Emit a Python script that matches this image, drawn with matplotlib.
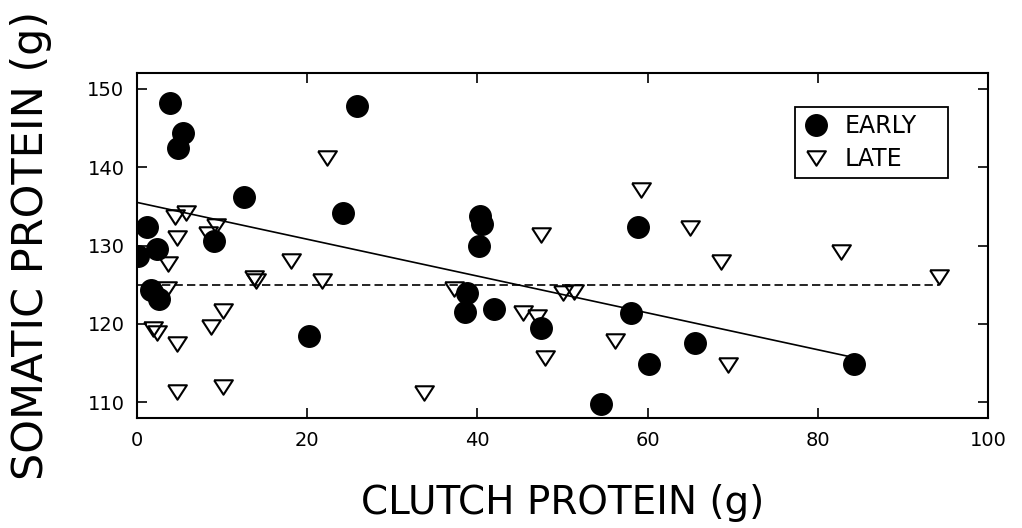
import matplotlib
matplotlib.use("Agg")
import matplotlib.pyplot as plt
from matplotlib.lines import Line2D

plt.rcParams['font.family'] = ['DejaVu Sans']

# EARLY (filled circles)
early_x = [3.9, 5.45, 4.8, 25.8, 12.6, 24.2, 1.2, 9.0, 2.3, 0.15, 1.7, 2.6, 20.2,
           40.35, 40.5, 40.2, 38.8, 38.6, 41.9, 47.5, 58.9, 58.1, 60.2, 54.5, 65.6, 84.3]
early_y = [148.2, 144.4, 142.5, 147.8, 136.2, 134.2, 132.3, 130.6, 129.6, 128.7, 124.3, 123.2, 118.5,
           133.8, 132.8, 130.0, 123.9, 121.5, 121.9, 119.5, 132.3, 121.4, 114.9, 109.8, 117.6, 114.9]

# LATE (open triangles)
late_x = [22.3, 4.5, 5.8, 9.3, 8.3, 4.7, 3.6, 18.1, 13.7, 14.0, 21.7, 3.5, 10.1, 8.7, 1.9, 2.3,
          4.7, 4.7, 10.1, 59.2, 65.0, 47.5, 37.2, 50.1, 51.3, 45.4, 47.0, 56.2, 48.0, 33.7,
          68.6, 82.7, 94.3, 69.4]
late_y = [141.1, 133.6, 134.2, 132.5, 131.5, 130.9, 127.7, 128.0, 125.9, 125.5, 125.5, 124.5, 121.6,
          119.6, 119.3, 118.8, 117.5, 111.3, 112.0, 137.1, 132.2, 131.4, 124.4, 123.9, 124.1,
          121.4, 120.9, 117.8, 115.6, 111.2, 127.9, 129.2, 126.0, 114.7]

# fitted lines
early_fit_x = [0.0, 84.3]
early_fit_y = [135.5, 115.7]
late_fit_x = [0.0, 94.3]
late_fit_y = [125.0, 125.0]

xticks = [0, 20, 40, 60, 80, 100]
yticks = [110, 120, 130, 140, 150]

fig = plt.figure(figsize=(10.22, 5.28), dpi=100)
ax = fig.add_axes([0.134, 0.2083, 0.8327, 0.6534])

tri = [(-1, 0.77), (1, 0.77), (0, -0.77), (-1, 0.77)]

ax.plot(early_fit_x, early_fit_y, color='black', lw=1.2, zorder=1)
ax.plot(late_fit_x, late_fit_y, color='black', lw=1.2, dashes=(5, 2.5), zorder=1)
ax.plot(late_x, late_y, linestyle='none', marker=tri, markersize=13.5,
        markerfacecolor='none', markeredgecolor='black', markeredgewidth=1.5, zorder=2)
ax.plot(early_x, early_y, linestyle='none', marker='o', markersize=15.5,
        markerfacecolor='black', markeredgecolor='black', zorder=3)

ax.set_xlim(0, 100)
ax.set_ylim(108, 152)
ax.set_xticks(xticks)
ax.set_yticks(yticks)
ax.tick_params(direction='in', length=7, width=1.2, top=True, right=True,
               labelsize=14, pad=9)
for s in ax.spines.values():
    s.set_linewidth(1.5)

ax.set_xlabel('CLUTCH PROTEIN (g)', fontsize=28)
ax.set_ylabel('SOMATIC PROTEIN (g)', fontsize=31)
ax.xaxis.set_label_coords(0.5, -0.19)
ax.yaxis.set_label_coords(-0.100, 0.5)

handles = [Line2D([], [], linestyle='none', marker='o', markersize=15.5,
                  markerfacecolor='black', markeredgecolor='black'),
           Line2D([], [], linestyle='none', marker=tri, markersize=13.5,
                  markerfacecolor='none', markeredgecolor='black', markeredgewidth=1.5)]
leg = ax.legend(handles, ['EARLY', 'LATE'], loc='upper left',
                bbox_to_anchor=(0.7732, 0.5, 0.1798, 0.4014), mode='expand',
                fontsize=17, fancybox=False,
                framealpha=1, edgecolor='black', borderpad=0.3, handletextpad=0.6,
                labelspacing=0.38, handlelength=1.2, borderaxespad=0)
leg.get_frame().set_linewidth(1.3)

fig.savefig('out.png', dpi=100)
